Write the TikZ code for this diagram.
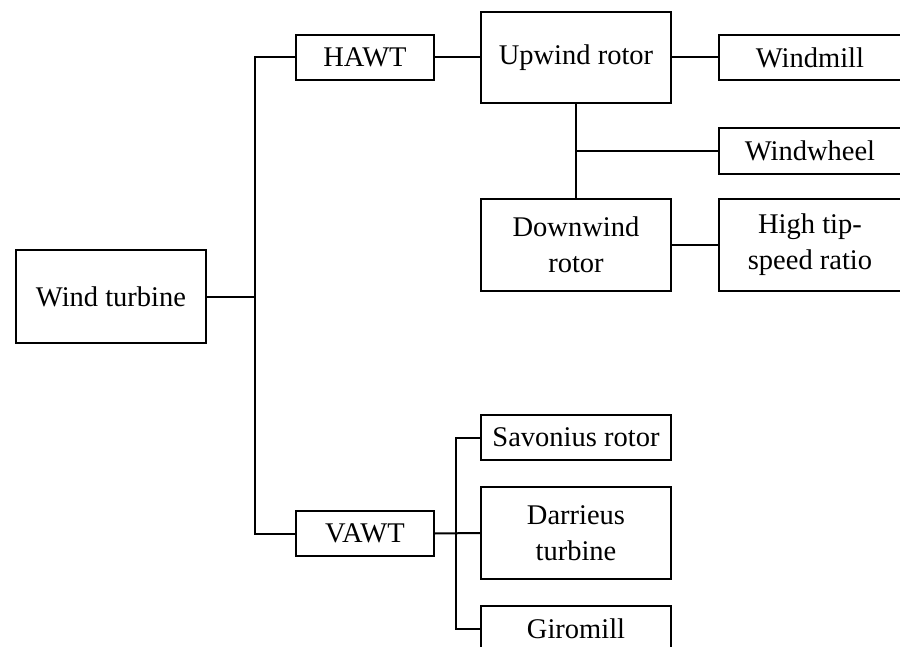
\documentclass[tikz,border=0pt]{standalone}
\usepackage{fontspec}
\setmainfont{Liberation Serif}
\begin{document}
\begin{tikzpicture}[x=1pt,y=-1pt,
  box/.style={draw=black,line width=2pt,inner sep=0pt,align=center,
    font=\fontsize{28.5}{36}\selectfont},
  link/.style={draw=black,line width=2pt}]
\useasboundingbox (0,0) rectangle (900,647);
\clip (0,0) rectangle (900,647);
\node[box,minimum width=190pt,minimum height=93pt] (wt) at (111,296.5) {Wind turbine};
\node[box,minimum width=138pt,minimum height=45pt] (hawt) at (365,57.5) {HAWT};
\node[box,minimum width=138pt,minimum height=45pt] (vawt) at (365,533.5) {VAWT};
\node[box,minimum width=190pt,minimum height=91pt] (up) at (576,57.5) {Upwind rotor};
\node[box,minimum width=182pt,minimum height=45pt] (wm) at (810,57.5) {Windmill};
\node[box,minimum width=182pt,minimum height=46pt] (ww) at (810,151) {Windwheel};
\node[box,minimum width=190pt,minimum height=92pt] (down) at (576,245) {Downwind\\rotor};
\node[box,minimum width=182pt,minimum height=92pt] (hi) at (810,245) {High tip-\\speed ratio};
\node[box,minimum width=190pt,minimum height=45pt] (sav) at (576,437.5) {Savonius rotor};
\node[box,minimum width=190pt,minimum height=92pt] (dar) at (576,533) {Darrieus\\turbine};
\node[box,minimum width=190pt,minimum height=46pt] (giro) at (576,629) {Giromill};
\coordinate (tr) at (255,296.5);
\coordinate (vb) at (456,533.5);
\draw[link] (wt.east) -- (tr);
\draw[link] (hawt.west) -| (tr) |- (vawt.west);
\draw[link] (hawt.east) -- (up.west);
\draw[link] (up.east) -- (wm.west);
\draw[link] (up.south) -- (down.north);
\draw[link] (up.south |- ww.west) -- (ww.west);
\draw[link] (down.east) -- (hi.west);
\draw[link] (vawt.east) -- (dar.west);
\draw[link] (sav.west) -| (vb) |- (giro.west);
\end{tikzpicture}
\end{document}
